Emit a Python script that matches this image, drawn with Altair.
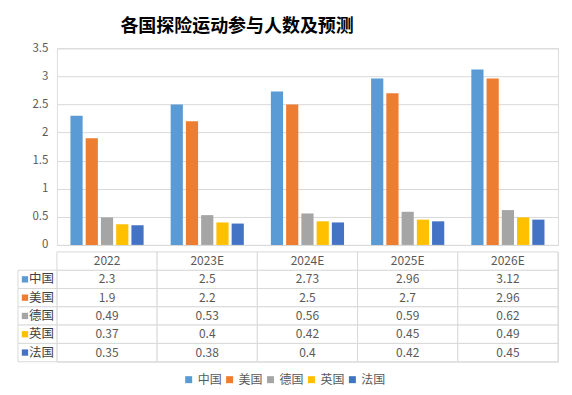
import altair as alt
import pandas as pd

years = ["2022", "2023E", "2024E", "2025E", "2026E"]
countries = ["中国", "美国", "德国", "英国", "法国"]
colors = ["#5B9BD5", "#ED7D31", "#A5A5A5", "#FFC000", "#4472C4"]
china = [2.3, 2.5, 2.73, 2.96, 3.12]
usa = [1.9, 2.2, 2.5, 2.7, 2.96]
germany = [0.49, 0.53, 0.56, 0.59, 0.62]
uk = [0.37, 0.4, 0.42, 0.45, 0.49]
france = [0.35, 0.38, 0.4, 0.42, 0.45]
y_ticks = [0, 0.5, 1, 1.5, 2, 2.5, 3, 3.5]
series = [china, usa, germany, uk, france]

rows = []
for c, vals in zip(countries, series):
    for yr, v in zip(years, vals):
        rows.append({"year": yr, "country": c, "value": v, "label": f"{v:g}"})
df = pd.DataFrame(rows)
hdr = pd.DataFrame({"year": years, "country": ["hdr"] * len(years)})
lab = pd.DataFrame({"country": countries})

font = "Noto Sans CJK SC"
grid = "#d9d9d9"
color_scale = alt.Scale(domain=countries, range=colors)
legend = alt.Legend(orient="none", legendX=126, legendY=326,
                    direction="horizontal", title=None,
                    symbolType="square", symbolSize=49, symbolStrokeWidth=0,
                    labelFont=font, labelFontSize=12, labelColor="#595959",
                    labelOffset=3, columnPadding=1)

bars = alt.Chart(df).mark_bar().encode(
    x=alt.X("year:N", sort=years, axis=None,
            scale=alt.Scale(paddingInner=0.27, paddingOuter=0.135)),
    xOffset=alt.XOffset("country:N", sort=countries,
                        scale=alt.Scale(paddingInner=0.2)),
    y=alt.Y("value:Q", scale=alt.Scale(domain=[0, 3.5]),
            axis=alt.Axis(values=y_ticks, format="~g", title=None, domain=False,
                          ticks=False, grid=True, gridColor=grid,
                          labelColor="#595959", labelFontSize=11.5,
                          labelPadding=9, labelFont=font)),
    color=alt.Color("country:N", sort=countries, scale=color_scale, legend=legend),
).properties(width=502, height=197)

xs = alt.Scale(type="band", domain=years, paddingInner=0, paddingOuter=0)
ys = alt.Scale(type="band", domain=["hdr"] + countries, paddingInner=0, paddingOuter=0)

cells = alt.Chart(df).mark_rect(fill="white", stroke=grid, strokeWidth=1).encode(
    x=alt.X("year:N", scale=xs, axis=None),
    y=alt.Y("country:N", scale=ys, axis=None),
)
hcells = alt.Chart(hdr).mark_rect(fill="white", stroke=grid, strokeWidth=1).encode(
    x=alt.X("year:N", scale=xs, axis=None),
    y=alt.Y("country:N", scale=ys, axis=None),
)
htext = alt.Chart(hdr).mark_text(font=font, fontSize=12, color="#595959").encode(
    x=alt.X("year:N", scale=xs, axis=None),
    y=alt.Y("country:N", scale=ys, axis=None),
    text="year:N",
)
vtext = alt.Chart(df).mark_text(font=font, fontSize=12, color="#595959").encode(
    x=alt.X("year:N", scale=xs, axis=None),
    y=alt.Y("country:N", scale=ys, axis=None),
    text="label:N",
)
lcells = alt.Chart(lab).mark_rect(fill="white", stroke=grid, strokeWidth=1).encode(
    x=alt.value(-39), x2=alt.value(0),
    y=alt.Y("country:N", scale=ys, axis=None),
)
lsq = alt.Chart(lab).mark_square(size=40, opacity=1).encode(
    x=alt.value(-32),
    y=alt.Y("country:N", scale=ys, axis=None),
    color=alt.Color("country:N", sort=countries, scale=color_scale, legend=legend),
)
ltext = alt.Chart(lab).mark_text(font=font, fontSize=12.5, color="#404040", align="left").encode(
    x=alt.value(-28),
    y=alt.Y("country:N", scale=ys, axis=None),
    text="country:N",
)
table = alt.layer(cells, hcells, lcells, htext, vtext, lsq, ltext).properties(width=502, height=110)

chart = alt.vconcat(bars, table, spacing=0).properties(
    title=alt.TitleParams("各国探险运动参与人数及预测", font=font, fontSize=18,
                          fontWeight="bold", color="#000000", anchor="middle",
                          dx=-51, offset=6),
    padding={"left": 9, "top": 9, "right": 5, "bottom": 5},
).configure_view(stroke=None).configure(background="white")

chart.save("out.html", embed_options={"renderer": "svg", "actions": False})
